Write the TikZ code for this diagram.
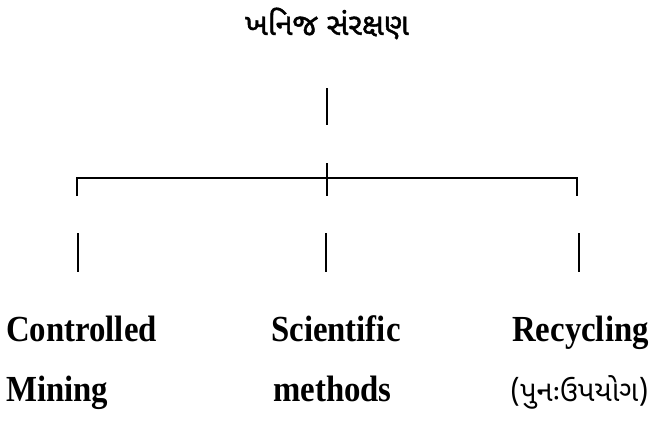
\documentclass[tikz,border=0pt]{standalone}
\usepackage{fontspec}
\usepackage{graphicx}
\setmainfont{Liberation Serif}
\newfontfamily\gujfont[Script=Gujarati]{Noto Sans Gujarati UI}
\newfontfamily\gujbold[Script=Gujarati,FakeBold=1.4]{Noto Sans Gujarati UI}
\newcommand{\tallbox}[1]{\scalebox{1}[1.12]{#1}}
\begin{document}
\begin{tikzpicture}[x=1pt,y=-1pt,
  bar/.style={line width=2.8pt},
  hline/.style={line width=2.5pt,line join=miter},
  lbl/.style={anchor=base west,inner sep=0pt,font=\fontsize{32.8}{33}\selectfont\bfseries},
  guj/.style={anchor=base west,inner sep=0pt,font=\fontsize{29}{29}\selectfont\gujfont},
  ttl/.style={anchor=base,inner sep=0pt,font=\fontsize{30.5}{31}\selectfont\gujbold}]
\useasboundingbox (0,0) rectangle (654,442);
\node[ttl] (title) at (327,35) {ખનિજ સંરક્ષણ};
% top bar
\coordinate (t1) at (327,88);
\coordinate (t2) at (327,125);
\draw[bar] (t1) -- (t2);
% bracket
\coordinate (hl) at (77,178);
\coordinate (hr) at (577,178);
\coordinate (hc) at (327,163);
\coordinate (hcb) at (327,196);
\coordinate (ld) at (77,196);
\coordinate (rd) at (577,196);
\draw[hline] (ld) -- (hl) -- (hr) -- (rd);
\draw[bar] (hc) -- (hcb);
% lower bars
\coordinate (a1) at (78,233); \coordinate (a2) at (78,272);
\coordinate (b1) at (326,233); \coordinate (b2) at (326,272);
\coordinate (c1) at (579,233); \coordinate (c2) at (579,272);
\draw[bar] (a1) -- (a2);
\draw[bar] (b1) -- (b2);
\draw[bar] (c1) -- (c2);
% labels
\node[lbl] (l1) at (6,341) {\tallbox{Controlled}};
\node[lbl] (l2) at (271,341) {\tallbox{Scientific}};
\node[lbl] (l3) at (512,341) {\tallbox{Recycling}};
\node[lbl] (m1) at (6,401) {\tallbox{Mining}};
\node[lbl] (m2) at (273,401) {\tallbox{methods}};
\node[guj] (m3) at (510,401) {(પુનઃઉપયોગ)};
\end{tikzpicture}
\end{document}
